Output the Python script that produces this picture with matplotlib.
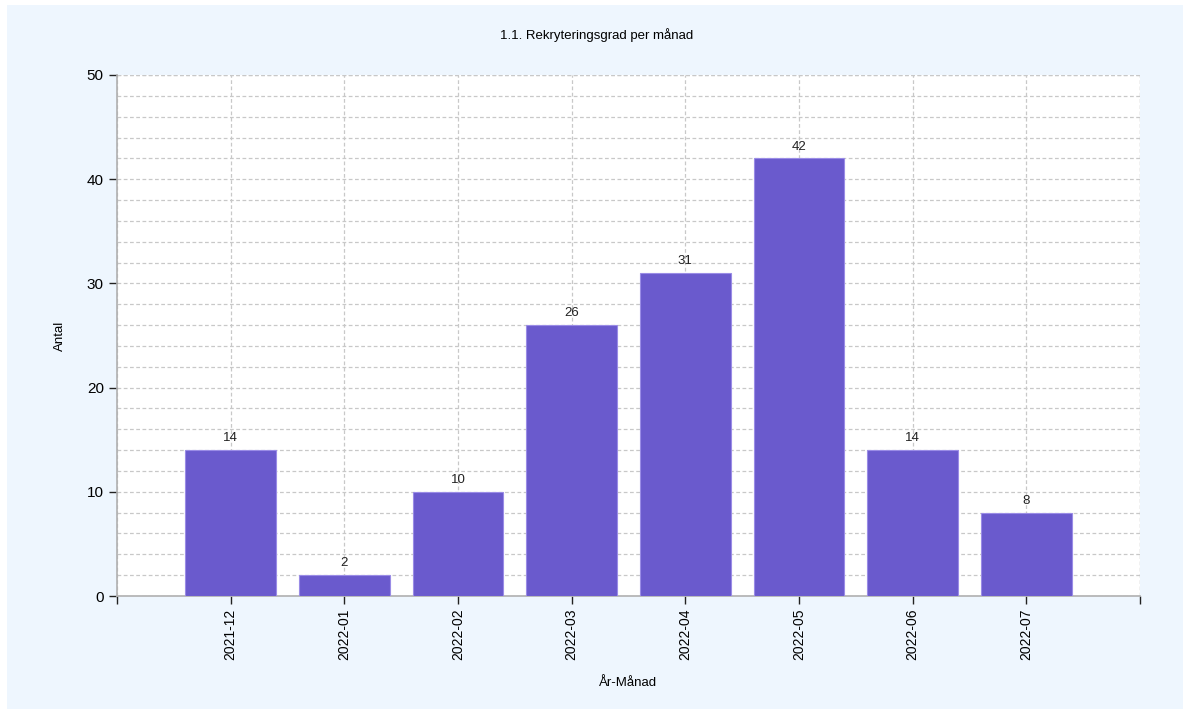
import matplotlib
matplotlib.use('Agg')
import matplotlib.pyplot as plt
from matplotlib.patches import Rectangle
from matplotlib.ticker import MultipleLocator

# Données
manader = ['2021-12', '2022-01', '2022-02', '2022-03', '2022-04', '2022-05', '2022-06', '2022-07']
antal = [14, 2, 10, 26, 31, 42, 14, 8]

plt.rcParams['font.family'] = ['Liberation Sans', 'DejaVu Sans']

fig = plt.figure(figsize=(11.83, 7.09), dpi=100)
fig.patch.set_facecolor('white')
# panneau bleu clair
fig.add_artist(Rectangle((7 / 1183, 0), 1 - 7 / 1183, 1 - 5 / 709,
                         transform=fig.transFigure, facecolor='#EEF6FE',
                         edgecolor='none', zorder=-10))

ax = fig.add_axes([117 / 1183, 1 - 596 / 709, (1140 - 117) / 1183, (596 - 75) / 709])
ax.set_facecolor('white')

x = list(range(1, len(manader) + 1))
bars = ax.bar(x, antal, width=0.8, color='#6A5ACD', edgecolor='#9A8CE6', linewidth=0.8, zorder=3)

for xi, v in zip(x, antal):
    ax.text(xi, v + 0.55, str(v), ha='center', va='bottom', fontsize=9.5, color='#222222', zorder=4)

ax.set_xlim(0, len(manader) + 1)
ax.set_ylim(0, 50)

ax.set_xticks(range(0, len(manader) + 2))
ax.set_xticklabels([''] + manader + [''], rotation=90, fontsize=10)
ax.yaxis.set_major_locator(MultipleLocator(10))
ax.yaxis.set_minor_locator(MultipleLocator(2))
ax.tick_params(axis='y', which='major', labelsize=11, length=6, width=1, color='#222222')
ax.tick_params(axis='y', which='minor', length=0)
ax.tick_params(axis='x', length=6, width=1, color='#222222', pad=3)

ax.grid(True, which='both', axis='y', linestyle=(0, (3, 2)), color='#C8C8C8', linewidth=0.9, zorder=1)
ax.grid(True, which='major', axis='x', linestyle=(0, (3, 2)), color='#C8C8C8', linewidth=0.9, zorder=1)

for s in ['top', 'right']:
    ax.spines[s].set_visible(False)
ax.axhline(50, linestyle=(0, (3, 2)), color='#C8C8C8', linewidth=0.9, zorder=1)
ax.axvline(len(manader) + 1, linestyle=(0, (3, 2)), color='#C8C8C8', linewidth=0.9, zorder=1)
ax.spines['left'].set_color('#B0B0B0')
ax.spines['bottom'].set_color('#B0B0B0')
ax.spines['left'].set_linewidth(1.2)
ax.spines['bottom'].set_linewidth(1.2)

ax.set_xlabel('År-Månad', fontsize=9.5)
ax.set_ylabel('Antal', fontsize=9.5)
ax.xaxis.set_label_coords(0.5, -0.155)
ax.yaxis.set_label_coords(-0.05, 0.5)
fig.text(597 / 1183, 1 - 35 / 709, '1.1. Rekryteringsgrad per månad', ha='center', va='center', fontsize=9.5)

fig.savefig('out.png', dpi=100, facecolor=fig.get_facecolor())
